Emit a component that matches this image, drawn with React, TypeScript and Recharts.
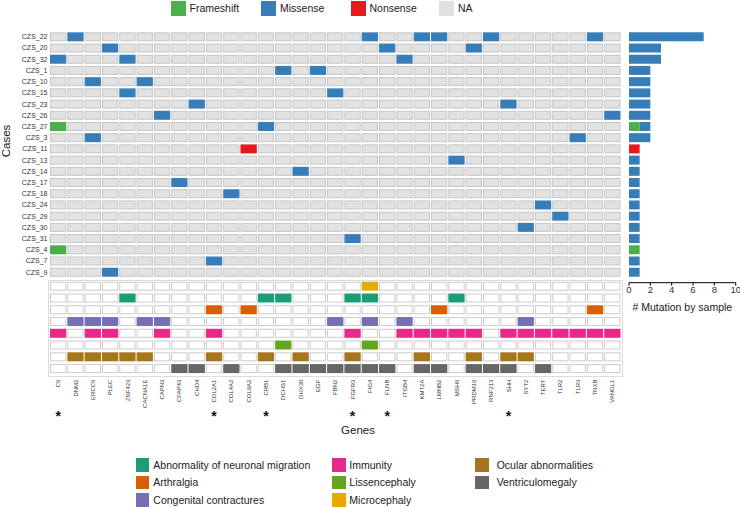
import React from 'react';
import { BarChart, Bar, XAxis, YAxis } from 'recharts';

const genes = ['C6','DNM2','ERCC6','PLEC','ZNF423','CACNA1E','CAPN3','CFAP43','CHD4','COL2A1','COL4A2','COL9A2','CRB1','DCHS1','DHX30','EGF','FBN2','FGFR3','FIG4','FLNB','ITGB4','KMT2A','LMNB2','MSH6','PRDM16','RNF213','SHH','SYT2','TERT','TLR2','TLR3','TNXB','VANGL1'];
const starredGenes = ['C6','COL2A1','CRB1','FGFR3','FLNB','SHH'];
const cases = ['CZS_22','CZS_20','CZS_32','CZS_1','CZS_10','CZS_15','CZS_23','CZS_26','CZS_27','CZS_3','CZS_11','CZS_13','CZS_14','CZS_17','CZS_18','CZS_24','CZS_29','CZS_30','CZS_31','CZS_4','CZS_7','CZS_9'];

const mutations: [string, string, string][] = [
  ['CZS_22','DNM2','Missense'],['CZS_22','FIG4','Missense'],['CZS_22','KMT2A','Missense'],['CZS_22','LMNB2','Missense'],['CZS_22','RNF213','Missense'],['CZS_22','TNXB','Missense'],
  ['CZS_20','PLEC','Missense'],['CZS_20','FLNB','Missense'],['CZS_20','PRDM16','Missense'],
  ['CZS_32','C6','Missense'],['CZS_32','ZNF423','Missense'],['CZS_32','ITGB4','Missense'],
  ['CZS_1','DCHS1','Missense'],['CZS_1','EGF','Missense'],
  ['CZS_10','ERCC6','Missense'],['CZS_10','CACNA1E','Missense'],
  ['CZS_15','ZNF423','Missense'],['CZS_15','FBN2','Missense'],
  ['CZS_23','CHD4','Missense'],['CZS_23','SHH','Missense'],
  ['CZS_26','CAPN3','Missense'],['CZS_26','VANGL1','Missense'],
  ['CZS_27','C6','Frameshift'],['CZS_27','CRB1','Missense'],
  ['CZS_3','ERCC6','Missense'],['CZS_3','TLR3','Missense'],
  ['CZS_11','COL9A2','Nonsense'],
  ['CZS_13','MSH6','Missense'],
  ['CZS_14','DHX30','Missense'],
  ['CZS_17','CFAP43','Missense'],
  ['CZS_18','COL4A2','Missense'],
  ['CZS_24','TERT','Missense'],
  ['CZS_29','TLR2','Missense'],
  ['CZS_30','SYT2','Missense'],
  ['CZS_31','FGFR3','Missense'],
  ['CZS_4','C6','Frameshift'],
  ['CZS_7','COL2A1','Missense'],
  ['CZS_9','PLEC','Missense'],
];

const frameshiftCounts = [0,0,0,0,0,0,0,0,1,0,0,0,0,0,0,0,0,0,0,1,0,0];
const missenseCounts   = [7,3,3,2,2,2,2,2,1,2,0,1,1,1,1,1,1,1,1,0,1,1];
const nonsenseCounts   = [0,0,0,0,0,0,0,0,0,0,1,0,0,0,0,0,0,0,0,0,0,0];
const countTicks = [0,2,4,6,8,10];

const phenotypes = ['Microcephaly','Abnormality of neuronal migration','Arthralgia','Congenital contractures','Immunity','Lissencephaly','Ocular abnormalities','Ventriculomegaly'];
const microcephalyGenes = ['FIG4'];
const neuronalMigrationGenes = ['ZNF423','CRB1','DCHS1','FGFR3','FIG4','MSH6'];
const arthralgiaGenes = ['COL2A1','COL9A2','LMNB2','TNXB'];
const contracturesGenes = ['DNM2','ERCC6','PLEC','CACNA1E','CAPN3','FBN2','FIG4','ITGB4','SYT2'];
const immunityGenes = ['C6','ERCC6','PLEC','CAPN3','COL2A1','FGFR3','ITGB4','KMT2A','LMNB2','MSH6','PRDM16','SHH','SYT2','TERT','TLR2','TLR3','TNXB','VANGL1'];
const lissencephalyGenes = ['DCHS1','FIG4'];
const ocularGenes = ['DNM2','ERCC6','PLEC','ZNF423','CACNA1E','COL2A1','CRB1','DHX30','FGFR3','KMT2A','PRDM16','SHH','SYT2'];
const ventriculomegalyGenes = ['CFAP43','CHD4','COL4A2','DCHS1','DHX30','EGF','FBN2','FGFR3','FIG4','FLNB','KMT2A','LMNB2','PRDM16','RNF213','SHH','TERT'];
const phenotypeGeneLists = [microcephalyGenes, neuronalMigrationGenes, arthralgiaGenes, contracturesGenes, immunityGenes, lissencephalyGenes, ocularGenes, ventriculomegalyGenes];
const legendOrder = ['Abnormality of neuronal migration','Arthralgia','Congenital contractures','Immunity','Lissencephaly','Microcephaly','Ocular abnormalities','Ventriculomegaly'];

const MUT_COLORS: Record<string, string> = { Frameshift: '#4daf4a', Missense: '#377eb8', Nonsense: '#e41a1c', NA: '#e0e0e0' };
const PHENO_COLORS: Record<string, string> = {
  'Abnormality of neuronal migration': '#1b9e77',
  'Arthralgia': '#d95f02',
  'Congenital contractures': '#7570b3',
  'Immunity': '#e7298a',
  'Lissencephaly': '#66a61e',
  'Microcephaly': '#e6ab02',
  'Ocular abnormalities': '#a6761d',
  'Ventriculomegaly': '#666666',
};
const NA_FILL = '#e2e2e2';
const NA_STROKE = '#c6c6c6';
const FONT = '"Liberation Sans", Arial, sans-serif';

const mainData = cases.map((c) => {
  const row: any = { caseId: c };
  genes.forEach((g) => { row[g] = 1; });
  return row;
});
const countData = cases.map((c, i) => ({ caseId: c, Frameshift: frameshiftCounts[i], Missense: missenseCounts[i], Nonsense: nonsenseCounts[i] }));
const phenoData = phenotypes.map((p) => {
  const row: any = { pheno: p };
  genes.forEach((g) => { row[g] = 1; });
  return row;
});

const mutationOf = (c: string, g: string) => {
  const m = mutations.find((r) => r[0] === c && r[1] === g);
  return m ? m[2] : null;
};

const mainCell = (gene: string) => (props: any) => {
  const { x, y, width, height, payload } = props;
  const t = mutationOf(payload.caseId, gene);
  if (!t) {
    return <rect x={x + 1} y={y + 0.5} width={width - 2} height={height - 1} fill={NA_FILL} stroke={NA_STROKE} strokeWidth={1} />;
  }
  return <rect x={x + 0.5} y={y} width={width - 1} height={height} fill={MUT_COLORS[t]} />;
};

const phenoCell = (gene: string) => (props: any) => {
  const { x, y, width, height, payload } = props;
  const idx = phenotypes.indexOf(payload.pheno);
  const has = phenotypeGeneLists[idx].includes(gene);
  if (!has) {
    return <rect x={x + 1} y={y + 0.5} width={width - 2} height={height - 1} fill="#ffffff" stroke="#cccccc" strokeWidth={1} />;
  }
  return <rect x={x + 0.5} y={y} width={width - 1} height={height} fill={PHENO_COLORS[payload.pheno]} />;
};

const GeneTick = (props: any) => {
  const { x, y, payload } = props;
  const gene = genes[Math.floor(payload.value)];
  return (
    <g>
      <text x={0} y={0} transform={`translate(${x},${y + 5}) rotate(-90)`} textAnchor="end" dy="0.35em" fontSize={6} fill="#333" fontFamily={FONT}>{gene}</text>
      {starredGenes.includes(gene) ? (
        <text x={x} y={y + 46} textAnchor="middle" fontSize={14} fontWeight="bold" fill="#111" fontFamily={FONT}>*</text>
      ) : null}
    </g>
  );
};

const geneTicks = genes.map((_, i) => i + 0.5);

export default function App() {
  return (
    <div style={{ position: 'absolute', left: 0, top: 0, width: 740, height: 507, background: '#fff', fontFamily: FONT, overflow: 'hidden' }}>
      {/* top legend */}
      {[['Frameshift', 170.5], ['Missense', 261], ['Nonsense', 350.5], ['NA', 439]].map(([name, x]) => (
        <React.Fragment key={name as string}>
          <div style={{ position: 'absolute', left: x as number, top: 1, width: 15, height: 15, background: MUT_COLORS[name as string] }} />
          <div style={{ position: 'absolute', left: (x as number) + 19, top: 2, fontSize: 10.5, lineHeight: '13px', color: '#222', whiteSpace: 'nowrap' }}>{name}</div>
        </React.Fragment>
      ))}

      {/* main heatmap */}
      <div style={{ position: 'absolute', left: 0, top: 0 }}>
        <BarChart width={740} height={290} data={mainData} layout="vertical" barCategoryGap="10%" margin={{ top: 31.2, right: 119, bottom: 12.2, left: 0 }}>
          <XAxis type="number" domain={[0, genes.length]} hide />
          <YAxis
            type="category"
            dataKey="caseId"
            width={49.5}
            axisLine={false}
            tickLine={false}
            tickSize={0}
            tickMargin={2}
            interval={0}
            tick={{ fontSize: 7, fill: '#333', fontFamily: FONT }}
            label={(p: any) => (
              <text x={0} y={0} transform="translate(10,141) rotate(-90)" textAnchor="middle" fontSize={11.5} fill="#222" fontFamily={FONT}>Cases</text>
            )}
          />
          {genes.map((g) => (
            <Bar key={g} dataKey={g} stackId="g" isAnimationActive={false} shape={mainCell(g)} />
          ))}
        </BarChart>
      </div>

      {/* mutation count bars */}
      <div style={{ position: 'absolute', left: 0, top: 0 }}>
        <BarChart width={740} height={320} data={countData} layout="vertical" barCategoryGap="10%" margin={{ top: 31.2, right: 4.3, bottom: 11.3, left: 629 }}>
          <XAxis
            type="number"
            domain={[0, 10]}
            ticks={countTicks}
            interval={0}
            height={26}
            tickSize={3}
            tickMargin={1}
            axisLine={{ stroke: '#000' }}
            tickLine={{ stroke: '#000' }}
            tick={{ fontSize: 9.5, fill: '#333', fontFamily: FONT }}
            label={(p: any) => (
              <text x={682.3} y={307} textAnchor="middle" dominantBaseline="central" fontSize={10.5} fill="#222" fontFamily={FONT}># Mutation by sample</text>
            )}
          />
          <YAxis type="category" dataKey="caseId" hide padding={{ top: 0, bottom: 4.9 }} />
          <Bar dataKey="Frameshift" stackId="n" fill={MUT_COLORS.Frameshift} isAnimationActive={false} />
          <Bar dataKey="Missense" stackId="n" fill={MUT_COLORS.Missense} isAnimationActive={false} />
          <Bar dataKey="Nonsense" stackId="n" fill={MUT_COLORS.Nonsense} isAnimationActive={false} />
        </BarChart>
      </div>

      {/* phenotype frame */}
      <div style={{ position: 'absolute', left: 47.5, top: 279.5, width: 573, height: 95, border: '1px solid #dddddd' }} />

      {/* phenotype heatmap */}
      <div style={{ position: 'absolute', left: 0, top: 0 }}>
        <BarChart width={740} height={507} data={phenoData} layout="vertical" barCategoryGap="10.5%" margin={{ top: 280.5, right: 119, bottom: 62.4, left: 49.5 }}>
          <XAxis
            type="number"
            domain={[0, genes.length]}
            ticks={geneTicks}
            interval={0}
            height={70}
            axisLine={false}
            tickLine={false}
            tickSize={0}
            tickMargin={0}
            tick={<GeneTick />}
            label={(p: any) => (
              <text x={358} y={434} textAnchor="middle" fontSize={11.5} fill="#222" fontFamily={FONT}>Genes</text>
            )}
          />
          <YAxis type="category" dataKey="pheno" hide />
          {genes.map((g) => (
            <Bar key={g} dataKey={g} stackId="p" isAnimationActive={false} shape={phenoCell(g)} />
          ))}
        </BarChart>
      </div>

      {/* bottom legend */}
      {legendOrder.map((name, i) => {
        const col = Math.floor(i / 3);
        const row = i % 3;
        const swatchX = [135.5, 332.3, 475][col];
        const textX = [153.3, 349.3, 496.7][col];
        const cy = 465 + row * 17.5;
        return (
          <React.Fragment key={name}>
            <div style={{ position: 'absolute', left: swatchX, top: cy - 7, width: 13.5, height: 13.5, background: PHENO_COLORS[name] }} />
            <div style={{ position: 'absolute', left: textX, top: cy - 6.5, fontSize: 10.5, lineHeight: '13px', color: '#222', whiteSpace: 'nowrap' }}>{name}</div>
          </React.Fragment>
        );
      })}
    </div>
  );
}
